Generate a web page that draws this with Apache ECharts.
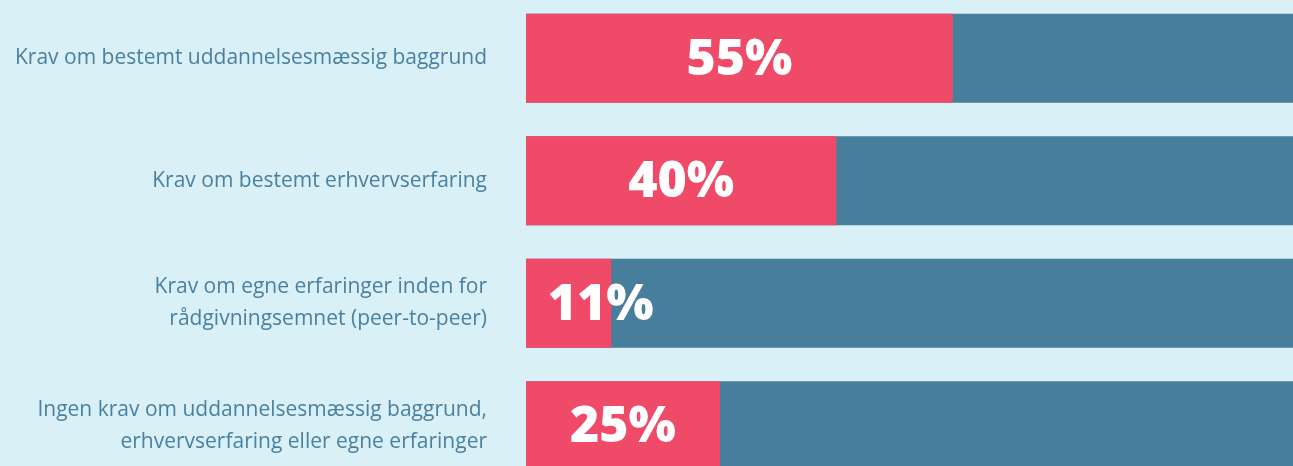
<!DOCTYPE html>
<html>
<head>
<meta charset="utf-8">
<script src="https://cdn.jsdelivr.net/npm/echarts@6/dist/echarts.min.js"></script>
<style>
  html, body { margin: 0; padding: 0; background: #daf0f7; }
  #chart { width: 1293px; height: 466px; }
</style>
</head>
<body>
<div id="chart"></div>
<script>
var categories = [
  "Krav om bestemt uddannelsesmæssig baggrund",
  "Krav om bestemt erhvervserfaring",
  "Krav om egne erfaringer inden for\nrådgivningsemnet (peer-to-peer)",
  "Ingen krav om uddannelsesmæssig baggrund,\nerhvervserfaring eller egne erfaringer"
];
var values = [55, 40, 11, 25];

var chart = echarts.init(document.getElementById("chart"));

chart.setOption({
  backgroundColor: "#daf0f7",
  animation: false,
  // the plot runs a little past the right edge, like the original
  grid: { left: 526, right: -9, top: -3, height: 490, outerBoundsMode: "none" },
  xAxis: {
    type: "value",
    min: 0,
    max: 100,
    show: false
  },
  yAxis: {
    type: "category",
    inverse: true,
    data: categories.map(function (c) {
      // two-line labels sit slightly above the bar centre
      if (c.indexOf("\n") >= 0) return { value: c, textStyle: { padding: [0, 0, 8, 0] } };
      return c;
    }),
    axisLine: { show: false },
    axisTick: { show: false },
    axisLabel: {
      margin: 39,
      color: "#4a80a0",
      fontFamily: "Open Sans",
      fontSize: 21,
      lineHeight: 32,
      align: "right"
    }
  },
  series: [
    {
      type: "bar",
      barWidth: 89,
      showBackground: true,
      backgroundStyle: { color: "#467e9c" },
      itemStyle: { color: "#ef4a67" },
      label: {
        show: true,
        position: "inside",
        formatter: "{c}%",
        color: "#ffffff",
        fontFamily: "Open Sans",
        fontWeight: 800,
        fontSize: 50,
        offset: [0, 2]
      },
      data: values.map(function (v) {
        // small bar: label sits a bit to the right in the original
        if (v < 15) return { value: v, label: { offset: [32, 2] } };
        return v;
      })
    }
  ]
});
</script>
</body>
</html>
